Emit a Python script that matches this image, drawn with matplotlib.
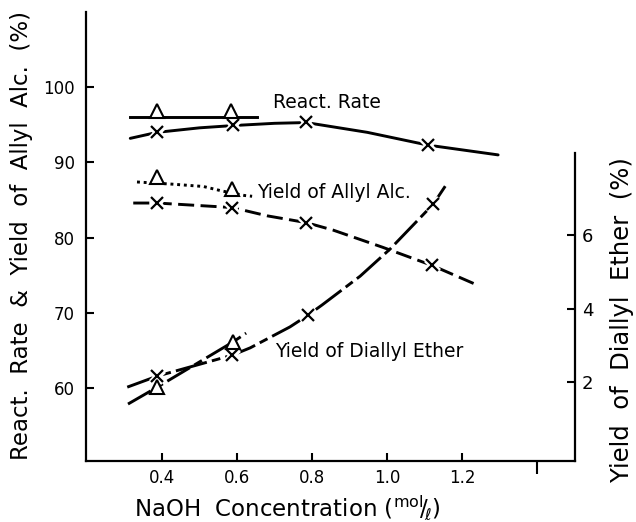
import matplotlib
matplotlib.use("Agg")
import matplotlib.pyplot as plt

# ---------------- data ----------------
rate_x = [0.387, 0.589, 0.784, 1.109]
rate_y = [94.0, 95.0, 95.4, 92.3]
rate_curve_x = [0.315, 0.387, 0.50, 0.589, 0.70, 0.784, 0.947, 1.109, 1.296]
rate_curve_y = [93.2, 94.0, 94.6, 94.9, 95.2, 95.3, 94.0, 92.3, 91.0]

rate_tri_x = [0.387, 0.583]
rate_tri_y = [96.9, 96.9]
rate_tri_line_x = [0.315, 0.653]
rate_tri_line_y = [96.0, 96.0]

alc_x = [0.387, 0.587, 0.784, 1.12]
alc_y = [84.6, 84.0, 82.0, 76.3]
alc_curve_x = [0.323, 0.387, 0.587, 0.68, 0.784, 0.856, 0.989, 1.12, 1.24]
alc_curve_y = [84.6, 84.6, 84.0, 82.9, 82.0, 81.0, 78.7, 76.3, 73.7]

alc_tri_x = [0.387, 0.587]
alc_tri_y = [88.0, 86.4]
alc_tri_line_x = [0.333, 0.43, 0.51, 0.56, 0.62, 0.64]
alc_tri_line_y = [87.4, 87.1, 86.8, 86.2, 85.6, 85.5]

ether_x = [0.387, 0.587, 0.789, 1.123]
ether_y = [2.16, 2.73, 3.82, 6.84]
ether_curve_x = [0.307, 0.387, 0.587, 0.635, 0.741, 0.789, 0.827, 0.928, 1.008, 1.123, 1.155]
ether_curve_y = [1.86, 2.16, 2.73, 2.93, 3.50, 3.82, 4.10, 4.88, 5.62, 6.84, 7.33]

ether_tri_x = [0.387, 0.589]
ether_tri_y = [1.86, 3.09]
ether_tri_curve_x = [0.309, 0.387, 0.589, 0.624]
ether_tri_curve_y = [1.40, 1.86, 3.09, 3.33]

x_ticks = [0.4, 0.6, 0.8, 1.0, 1.2]
x_ticklabels = ["0.4", "0.6", "0.8", "1.0", "1.2"]
left_ticks = [60, 70, 80, 90, 100]
right_ticks = [2, 4, 6]

# ---------------- figure ----------------
plt.rcParams['font.family'] = ['DejaVu Sans']
fig = plt.figure(figsize=(6.36, 5.22), dpi=100)
W, H = 636, 522
ax = fig.add_axes([86 / W, (H - 461) / H, (575 - 86) / W, (461 - 12) / H])
ax.set_xlim(0.197, 1.501)
ax.set_ylim(50.3, 110.0)
ax2 = ax.twinx()
ax2.set_ylim(-0.15, 12.07)

LW = 2.1
K = 'black'

def xmarks(a, xs, ys):
    a.plot(xs, ys, ls='none', marker='x', ms=9, mew=5, color='white', zorder=4)
    a.plot(xs, ys, ls='none', marker='x', ms=9, mew=1.6, color=K, zorder=5)

def trimarks(a, xs, ys):
    a.plot(xs, ys, ls='none', marker='^', ms=10, mew=1.5, mfc='white', mec=K, zorder=5)

# React. Rate
ax.plot(rate_curve_x, rate_curve_y, color=K, lw=LW, solid_capstyle='round')
xmarks(ax, rate_x, rate_y)
ax.plot(rate_tri_line_x, rate_tri_line_y, color=K, lw=LW)
trimarks(ax, rate_tri_x, rate_tri_y)

# Yield of Allyl Alc.
ax.plot(alc_curve_x, alc_curve_y, color=K, lw=LW, ls=(0, (5.5, 2.2)))
xmarks(ax, alc_x, alc_y)
ax.plot(alc_tri_line_x, alc_tri_line_y, color=K, lw=LW, ls=(0, (1.0, 1.3)))
trimarks(ax, alc_tri_x, alc_tri_y)

# Yield of Diallyl Ether (right axis)
ax2.plot(ether_curve_x, ether_curve_y, color=K, lw=LW, ls=(0, (11, 1.8, 3, 1.8)))
xmarks(ax2, ether_x, ether_y)
ax2.plot(ether_tri_curve_x, ether_tri_curve_y, color=K, lw=LW, ls=(0, (9, 1.8, 3, 1.8)))
trimarks(ax2, ether_tri_x, ether_tri_y)

# annotations
ax.text(0.696, 98.0, "React. Rate", fontsize=13.5, ha='left', va='center')
ax.text(0.653, 86.0, "Yield of Allyl Alc.", fontsize=13.5, ha='left', va='center')
ax.text(0.701, 64.8, "Yield of Diallyl Ether", fontsize=13.5, ha='left', va='center')

# axes styling
for a in (ax, ax2):
    a.spines['top'].set_visible(False)
    a.patch.set_visible(False)
ax.spines['right'].set_visible(False)
ax2.spines['left'].set_visible(False)
ax2.spines['bottom'].set_visible(False)
for sp in ('left', 'bottom'):
    ax.spines[sp].set_linewidth(1.6)
ax2.spines['right'].set_linewidth(1.6)
ax2.spines['right'].set_bounds(-0.15, 8.23)

ax.set_xticks(x_ticks)
ax.set_xticklabels(x_ticklabels)
ax.set_xticks([1.4], minor=True)
ax.set_yticks(left_ticks)
ax2.set_yticks(right_ticks)
ax.tick_params(axis='x', which='major', direction='in', length=5.5, width=1.5,
               labelsize=12, pad=6)
ax.tick_params(axis='x', which='minor', direction='out', length=9, width=1.5)
ax.tick_params(axis='y', direction='in', length=6, width=1.5, labelsize=12, pad=8)
ax2.tick_params(axis='y', direction='in', length=6, width=1.5, labelsize=13, pad=5)

# axis titles
fig.text(22 / W, (H - 236) / H,
         "React.  Rate  &  Yield  of  Allyl  Alc.  (%)",
         rotation=90, fontsize=16.5, ha='center', va='center')
fig.text(622 / W, (H - 320) / H,
         "Yield  of  Diallyl  Ether  (%)",
         rotation=90, fontsize=17.5, ha='center', va='center')
fig.text(287 / W, (H - 508) / H,
         r"NaOH  Concentration ($^{\mathrm{mol}}\!/\!_{\ell}$)",
         fontsize=16.5, ha='center', va='center')

fig.savefig("out.png", dpi=100, facecolor='white')
